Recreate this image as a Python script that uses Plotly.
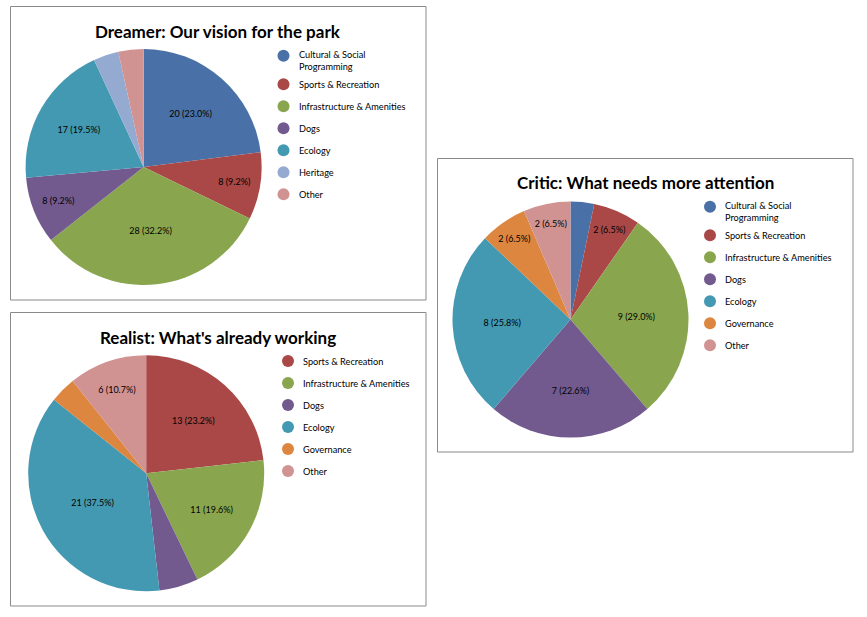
import plotly.graph_objects as go

# ---------- datos ----------
dreamer_labels = ["Cultural & Social Programming", "Sports & Recreation", "Infrastructure & Amenities",
                  "Dogs", "Ecology", "Heritage", "Other"]
dreamer_values = [20, 8, 28, 8, 17, 3, 3]
dreamer_show = [True, True, True, True, True, False, False]

critic_labels = ["Cultural & Social Programming", "Sports & Recreation", "Infrastructure & Amenities",
                 "Dogs", "Ecology", "Governance", "Other"]
critic_values = [1, 2, 9, 7, 8, 2, 2]
critic_show = [False, True, True, True, True, True, True]

realist_labels = ["Sports & Recreation", "Infrastructure & Amenities", "Dogs", "Ecology", "Governance", "Other"]
realist_values = [13, 11, 3, 21, 2, 6]
realist_show = [True, True, False, True, False, True]

colores = {
    "Cultural & Social Programming": "#4A71A7",
    "Sports & Recreation": "#A94846",
    "Infrastructure & Amenities": "#89A64E",
    "Dogs": "#725A8F",
    "Ecology": "#4399B1",
    "Heritage": "#94AAD1",
    "Governance": "#DC8640",
    "Other": "#D19392",
}

W, H = 867, 617
FUENTE = "Lato"


def px_x(x):
    return x / W


def px_y(y):
    return 1 - y / H


# paneles: titulo, datos, caja, centro de la torta, leyenda
paneles = [
    dict(titulo="Dreamer: Our vision for the park", labels=dreamer_labels, values=dreamer_values,
         show=dreamer_show, caja=(10.5, 6.5, 426, 300), centro=(143.6, 167), ley=(283.5, 55.7), titulo_y=31),
    dict(titulo="Critic: What needs more attention", labels=critic_labels, values=critic_values,
         show=critic_show, caja=(437.5, 158.5, 853, 452), centro=(570.5, 319.5), ley=(710, 206.7), titulo_y=182.5),
    dict(titulo="Realist: What's already working", labels=realist_labels, values=realist_values,
         show=realist_show, caja=(10.5, 312.5, 426, 606), centro=(146.2, 473.3), ley=(288, 361), titulo_y=337),
]

R = 118
fig = go.Figure()
shapes = []
anots = []

for p in paneles:
    cx, cy = p["centro"]
    plantillas = ["%{value} (%{percent:.1%})" if s else "" for s in p["show"]]
    fig.add_trace(go.Pie(
        labels=p["labels"], values=p["values"], sort=False, direction="clockwise", rotation=0,
        marker=dict(colors=[colores[l] for l in p["labels"]], line=dict(width=0)),
        texttemplate=plantillas, textposition="inside", insidetextorientation="horizontal",
        textfont=dict(family=FUENTE, size=9, color="black"),
        domain=dict(x=[px_x(cx - R), px_x(cx + R)], y=[px_y(cy + R), px_y(cy - R)]),
        showlegend=False, hoverinfo="label+value+percent",
    ))

    x0, y0, x1, y1 = p["caja"]
    shapes.append(dict(type="rect", xref="paper", yref="paper",
                       x0=px_x(x0), x1=px_x(x1), y0=px_y(y1), y1=px_y(y0),
                       line=dict(color="#8a8a8a", width=1), layer="below"))

    anots.append(dict(text="<b>" + p["titulo"] + "</b>", x=px_x((x0 + x1) / 2), y=px_y(p["titulo_y"]),
                      xref="paper", yref="paper", showarrow=False, xanchor="center", yanchor="middle",
                      font=dict(family=FUENTE, size=17, color="black")))

    # leyenda a mano (circulos)
    mx, my = p["ley"]
    yy = my
    for lab in p["labels"]:
        texto = lab
        dy = 0
        if lab == "Cultural & Social Programming":
            texto = "Cultural & Social<br>Programming"
            dy = 5
        shapes.append(dict(type="circle", xref="paper", yref="paper",
                           x0=px_x(mx - 6), x1=px_x(mx + 6), y0=px_y(yy + 6), y1=px_y(yy - 6),
                           fillcolor=colores[lab], line=dict(width=0)))
        anots.append(dict(text=texto, x=px_x(mx + 13), y=px_y(yy + dy), xref="paper", yref="paper",
                          showarrow=False, xanchor="left", yanchor="middle", align="left",
                          font=dict(family=FUENTE, size=9.2, color="black")))
        yy += 28.6 if dy else 22

fig.update_layout(
    width=W, height=H, margin=dict(l=0, r=0, t=0, b=0),
    paper_bgcolor="white", plot_bgcolor="white",
    shapes=shapes, annotations=anots,
)

# quitar el margen del body para que la figura quede en (0,0)
fig.write_html("out.html", config={"displayModeBar": False},
               post_script="document.body.style.margin='0';")
